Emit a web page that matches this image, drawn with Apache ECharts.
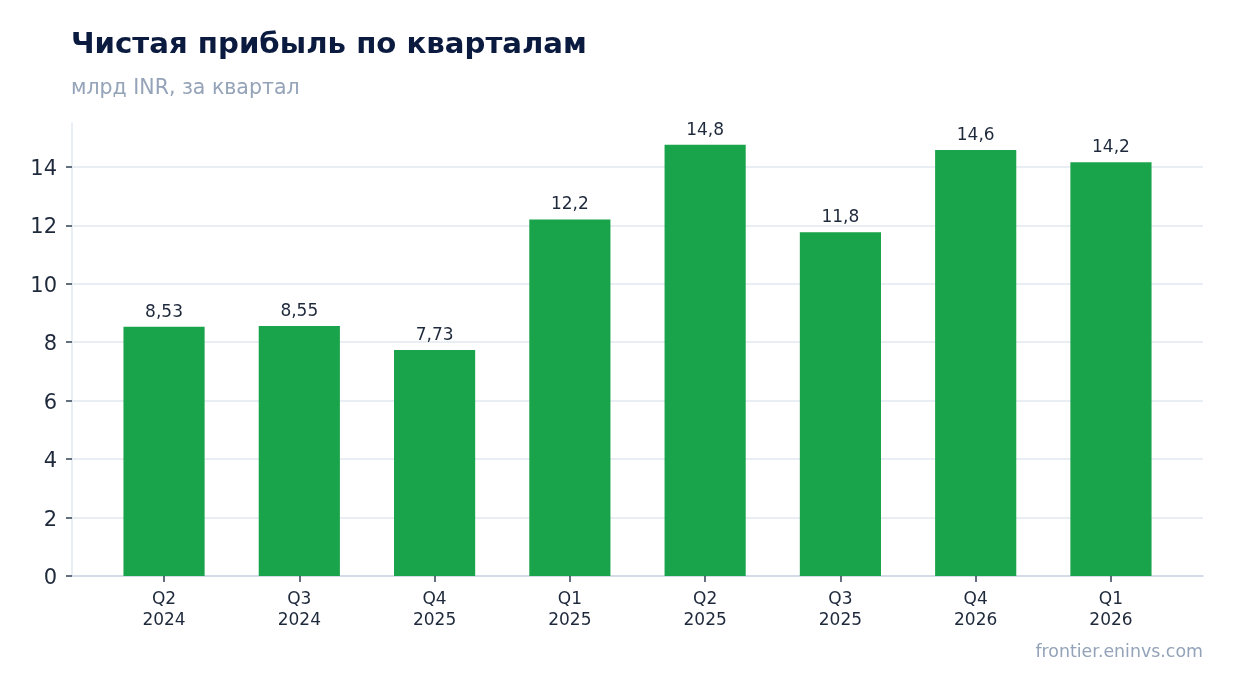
<!DOCTYPE html>
<html><head><meta charset="utf-8">
<script src="https://cdn.jsdelivr.net/npm/echarts@6/dist/echarts.min.js"></script>
<style>html,body{margin:0;padding:0;background:#fff}#c{width:1234px;height:693px}</style>
</head><body><div id="c"></div>
<script>
const categories = ['Q2\n2024','Q3\n2024','Q4\n2025','Q1\n2025','Q2\n2025','Q3\n2025','Q4\n2026','Q1\n2026'];
const values = [8.53, 8.55, 7.73, 12.2, 14.76, 11.76, 14.58, 14.16];
const yTicks = {min: 0, max: 15.5, interval: 2};
const titleText = 'Чистая прибыль по кварталам';
const subtitleText = 'млрд INR, за квартал';
const sourceText = 'frontier.eninvs.com';

function fmt(v){
  const s = v >= 10 ? v.toFixed(1) : v.toFixed(2);
  return s.replace('.', ',');
}
const FONT = 'DejaVu Sans';
const chart = echarts.init(document.getElementById('c'));
chart.setOption({
  backgroundColor: '#ffffff',
  textStyle: {fontFamily: FONT},
  title: [
    {text: titleText, left: 71, top: 31, padding: 0, textStyle: {fontFamily: FONT, fontSize: 29.2, fontWeight: 'bold', color: '#0b1a3f'}},
    {text: subtitleText, left: 71, top: 78, padding: 0, textStyle: {fontFamily: FONT, fontSize: 20.5, fontWeight: 'normal', color: '#94a3b8'}},
    {text: sourceText, right: 31, top: 644, padding: 0, textStyle: {fontFamily: FONT, fontSize: 17.4, fontWeight: 'normal', color: '#94a3b8'}}
  ],
  grid: [
    {left: 72, right: 31, top: 123, bottom: 117, containLabel: false},
    {left: 96.4, right: 55.4, top: 123, bottom: 117, containLabel: false}
  ],
  xAxis: [
    {type: 'value', gridIndex: 0, min: 0, max: 1,
     axisLine: {show: true, lineStyle: {color: '#cbd5e1', width: 1.5}},
     axisTick: {show: false}, axisLabel: {show: false}, splitLine: {show: false}},
    {type: 'category', gridIndex: 1, data: categories,
     axisLine: {show: false},
     axisTick: {show: true, alignWithLabel: true, length: 6, lineStyle: {color: '#334155', width: 1.5}},
     axisLabel: {fontSize: 17, color: '#1e293b', lineHeight: 21, margin: 13, fontFamily: FONT}}
  ],
  yAxis: [
    {type: 'value', gridIndex: 0, min: yTicks.min, max: yTicks.max, interval: yTicks.interval,
     axisLine: {show: true, lineStyle: {color: '#e2e8f0', width: 1.5}},
     axisTick: {show: true, length: 6, lineStyle: {color: '#334155', width: 1.5}},
     axisLabel: {color: '#1e293b', margin: 15, fontFamily: FONT, showMaxLabel: false,
       formatter: v => '{t|' + v + '}',
       rich: {t: {fontSize: 21, color: '#1e293b', fontFamily: FONT, padding: [5, 0, 0, 0]}}},
     splitLine: {show: true, showMaxLine: false, lineStyle: {color: '#e2e8f0', width: 1.5}}},
    {type: 'value', gridIndex: 1, min: yTicks.min, max: yTicks.max, show: false,
     splitLine: {show: false}}
  ],
  series: [{
    type: 'bar', xAxisIndex: 1, yAxisIndex: 1, data: values, barWidth: '60%',
    itemStyle: {color: '#19a34a'},
    label: {show: true, position: 'top', distance: 6, fontSize: 17, color: '#1e293b', fontFamily: FONT,
      formatter: p => fmt(p.value)}
  }]
});
</script></body></html>
